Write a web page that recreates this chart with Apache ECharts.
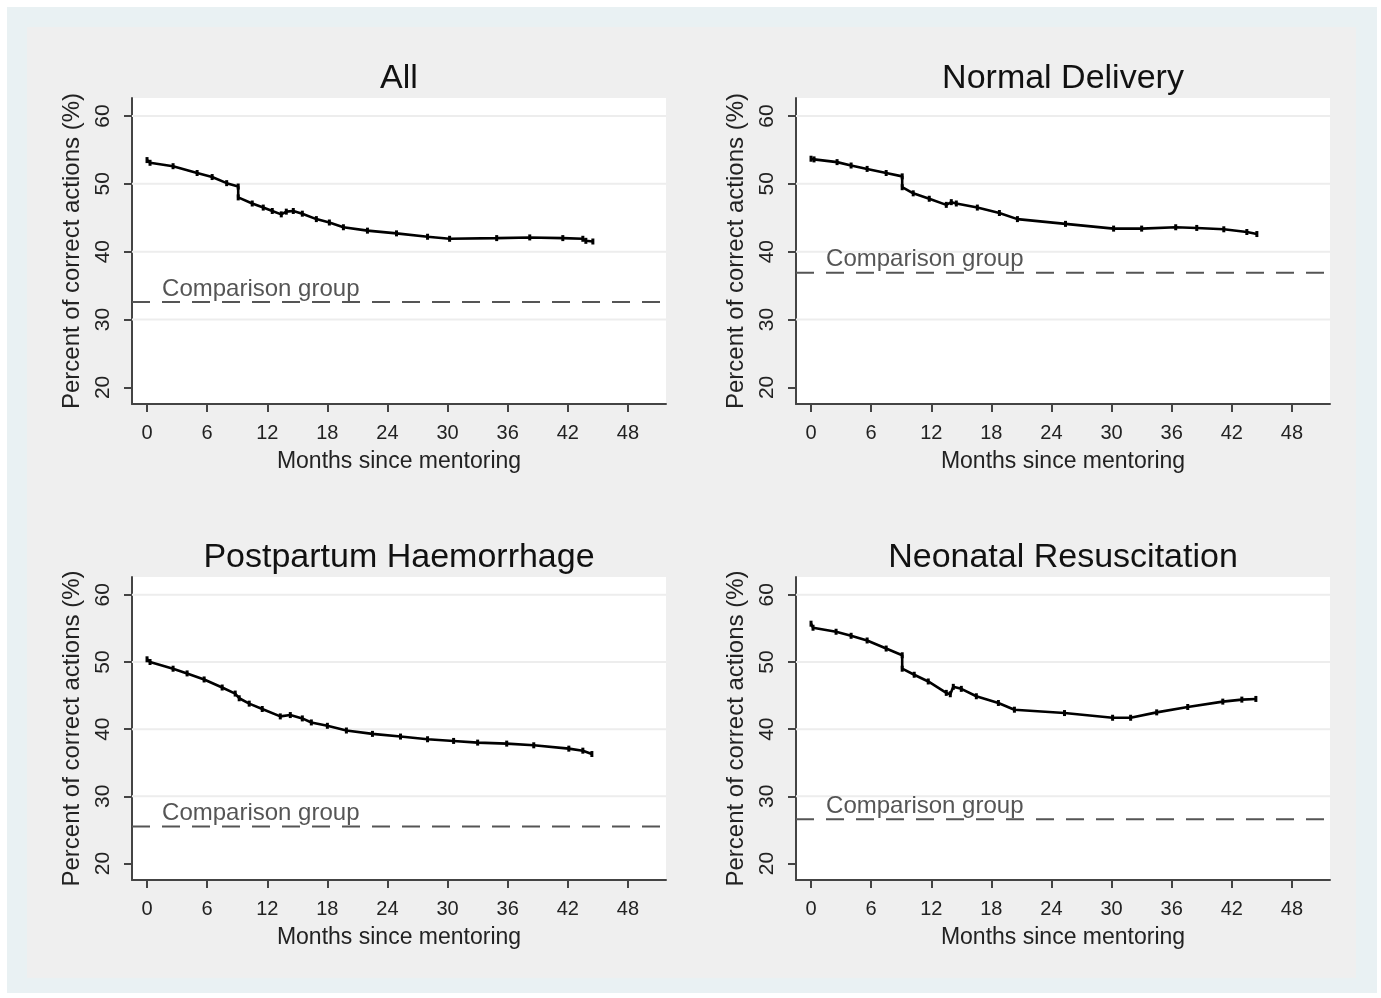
<!DOCTYPE html>
<html>
<head>
<meta charset="utf-8">
<script src="https://cdn.jsdelivr.net/npm/echarts@6/dist/echarts.min.js"></script>
<style>
html,body{margin:0;padding:0;background:#fff;}
#chart{width:1381px;height:998px;}
</style>
</head>
<body>
<div id="chart"></div>
<script>
// ---- data ----
const monthTicks = [0, 6, 12, 18, 24, 30, 36, 42, 48];
const pctTicks = [20, 30, 40, 50, 60];
const panelTitles = ['All', 'Normal Delivery', 'Postpartum Haemorrhage', 'Neonatal Resuscitation'];
const comparisonValues = [32.6, 36.9, 25.5, 26.6];
const comparisonLabel = 'Comparison group';
const xTitle = 'Months since mentoring';
const yTitle = 'Percent of correct actions (%)';

const allMonths = [0, 0.3, 2.6, 5.0, 6.5, 7.95, 9.1, 9.1, 10.5, 11.6, 12.5, 13.4, 13.9, 14.6, 15.5, 16.9, 18.2, 19.6, 22, 24.9, 28, 30.2, 34.9, 38.2, 41.5, 43.5, 43.8, 44.5];
const allValues = [53.5, 53.1, 52.6, 51.6, 51.0, 50.1, 49.6, 48.0, 47.1, 46.5, 46.0, 45.5, 45.9, 46.0, 45.6, 44.8, 44.3, 43.6, 43.1, 42.7, 42.2, 41.9, 42.0, 42.1, 42.0, 41.9, 41.6, 41.5];

const ndMonths = [0, 0.3, 2.6, 4, 5.6, 7.5, 9.1, 9.1, 10.2, 11.8, 13.5, 14.0, 14.5, 16.6, 18.8, 20.6, 25.4, 30.2, 33, 36.4, 38.5, 41.2, 43.5, 44.5];
const ndValues = [53.7, 53.6, 53.2, 52.7, 52.2, 51.6, 51.1, 49.5, 48.6, 47.8, 46.9, 47.3, 47.1, 46.5, 45.7, 44.8, 44.1, 43.4, 43.4, 43.6, 43.5, 43.3, 42.9, 42.6];

const pphMonths = [0, 0.3, 2.6, 4, 5.7, 7.5, 8.8, 9.2, 10.2, 11.5, 13.3, 14.3, 15.5, 16.4, 18, 19.9, 22.5, 25.3, 28, 30.6, 33, 35.9, 38.6, 42.1, 43.5, 44.4];
const pphValues = [50.4, 50.0, 49.0, 48.3, 47.4, 46.2, 45.3, 44.6, 43.8, 43.0, 41.9, 42.1, 41.6, 41.0, 40.5, 39.8, 39.3, 38.9, 38.5, 38.25, 38.0, 37.85, 37.6, 37.1, 36.8, 36.3];

const nrMonths = [0, 0.2, 2.5, 4, 5.6, 7.5, 9.1, 9.1, 10.3, 11.7, 13.5, 13.9, 14.2, 15, 16.5, 18.7, 20.3, 25.3, 30.1, 31.9, 34.5, 37.6, 41.1, 43, 44.4];
const nrValues = [55.7, 55.1, 54.5, 53.9, 53.2, 52.0, 51.0, 49.0, 48.1, 47.1, 45.4, 45.2, 46.3, 46.0, 44.9, 43.9, 42.9, 42.4, 41.7, 41.7, 42.5, 43.3, 44.1, 44.4, 44.5];

const panelMonths = [allMonths, ndMonths, pphMonths, nrMonths];
const panelValues = [allValues, ndValues, pphValues, nrValues];

// ---- layout ----
const X_MIN = -1.5, X_MAX = 51.8;
const Y_MIN = 17.55, Y_MAX = 62.65;
const FONT = '"Liberation Sans", Arial, Helvetica, sans-serif';
const gridBoxes = [
  {left: 132, top: 98, width: 534, height: 306},
  {left: 796, top: 98, width: 534, height: 306},
  {left: 132, top: 577, width: 534, height: 303},
  {left: 796, top: 577, width: 534, height: 303}
];

const grids = [], xAxes = [], yAxes = [], series = [], titles = [];
gridBoxes.forEach((g, i) => {
  grids.push(Object.assign({show: true, backgroundColor: '#ffffff', borderWidth: 0}, g));
  titles.push({
    text: panelTitles[i],
    left: g.left + g.width / 2 - 5, top: g.top - 41, textAlign: 'center',
    textStyle: {fontFamily: FONT, fontSize: 34, fontWeight: 'normal', color: '#111'}
  });
  xAxes.push({
    type: 'value', gridIndex: i, min: X_MIN, max: X_MAX,
    name: xTitle, nameLocation: 'middle', nameGap: 46,
    nameTextStyle: {fontFamily: FONT, fontSize: 23, color: '#222'},
    axisLine: {show: true, onZero: false, lineStyle: {color: '#444', width: 2}},
    axisTick: {show: true, length: 8, customValues: monthTicks, lineStyle: {color: '#444', width: 2}},
    axisLabel: {customValues: monthTicks, margin: 19, fontFamily: FONT, fontSize: 20, color: '#222'},
    splitLine: {show: false}
  });
  yAxes.push({
    type: 'value', gridIndex: i, min: Y_MIN, max: Y_MAX,
    name: yTitle, nameLocation: 'middle', nameGap: 48, nameRotate: 90,
    nameTextStyle: {fontFamily: FONT, fontSize: 24, color: '#222'},
    axisLine: {show: true, onZero: false, lineStyle: {color: '#444', width: 2}},
    axisTick: {show: true, length: 8, customValues: pctTicks, lineStyle: {color: '#444', width: 2}},
    axisLabel: {customValues: pctTicks, rotate: 90, margin: 18, fontFamily: FONT, fontSize: 21, color: '#222'},
    splitLine: {show: false}
  });
  // gridlines
  pctTicks.filter(v => v > 20).forEach(v => {
    series.push({
      type: 'line', xAxisIndex: i, yAxisIndex: i, silent: true, symbol: 'none', z: 1,
      data: [[X_MIN, v], [X_MAX, v]],
      lineStyle: {color: '#ededed', width: 2}
    });
  });
  // comparison group dashed line
  series.push({
    type: 'line', xAxisIndex: i, yAxisIndex: i, silent: true, symbol: 'none', z: 2,
    data: [[X_MIN, comparisonValues[i]], [X_MAX, comparisonValues[i]]],
    lineStyle: {color: '#555', width: 2, type: [18, 12]}
  });
  // comparison label
  series.push({
    type: 'scatter', xAxisIndex: i, yAxisIndex: i, silent: true, symbolSize: 0, z: 3,
    data: [[1.5, comparisonValues[i]]],
    label: {show: true, position: 'right', distance: 0, offset: [0, -13],
      formatter: comparisonLabel, fontFamily: FONT, fontSize: 24, color: '#2a2a2a'}
  });
  // main curve (with small censoring ticks at the read points)
  series.push({
    type: 'line', xAxisIndex: i, yAxisIndex: i, z: 4,
    symbol: 'rect', symbolSize: [3, 6], showSymbol: true,
    itemStyle: {color: '#000'},
    data: panelMonths[i].map((m, k) => [m, panelValues[i][k]]),
    lineStyle: {color: '#000', width: 2.6}
  });
});

const chart = echarts.init(document.getElementById('chart'), null, {renderer: 'canvas'});
chart.setOption({
  animation: false,
  backgroundColor: '#ffffff',
  graphic: [
    {type: 'rect', shape: {x: 7, y: 7, width: 1370, height: 986}, style: {fill: '#e9f1f3'}, z: -10, silent: true},
    {type: 'rect', shape: {x: 27, y: 27, width: 1329, height: 951}, style: {fill: '#efefef'}, z: -9, silent: true}
  ],
  title: titles,
  grid: grids,
  xAxis: xAxes,
  yAxis: yAxes,
  series: series
});
</script>
</body>
</html>
